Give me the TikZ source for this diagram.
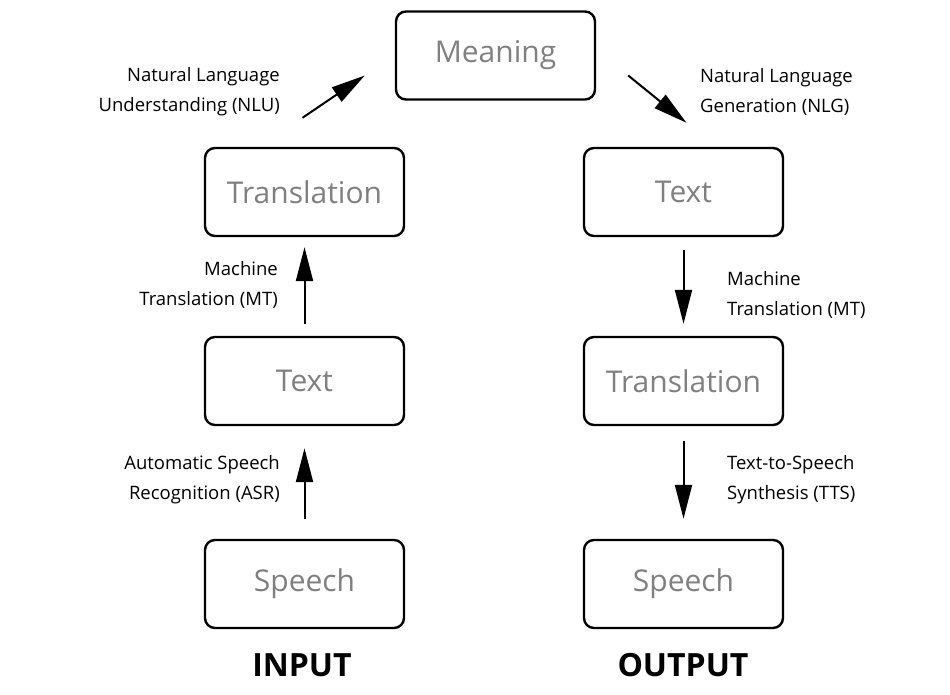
\documentclass[tikz,border=0pt]{standalone}
\usepackage{fontspec}
\setmainfont{Open Sans}
\usetikzlibrary{arrows.meta}
\begin{document}
\begin{tikzpicture}[x=1pt, y=-1pt, box/.style = {draw, line width=2.4pt, rounded corners=10pt, minimum width=199pt, minimum height=88pt, text=black!50, font=\fontsize{30}{36}\selectfont},
		lbl/.style = {inner sep=0pt, font=\fontsize{18.5}{30}\selectfont},
		arr/.style = {-{Triangle[length=34pt,width=17pt]}, line width=2pt},
		side/.style = {font=\bfseries\fontsize{32}{38}\selectfont}]
		
		\useasboundingbox (0,0) rectangle (950,695);
		
		\node[box] (meaning) at (495.5,55.5) {Meaning};
		\node[box] (intrans) at (304.5,192) {Translation};
		\node[box] (intext) at (304.5,381) {Text};
		\node[box] (inspeech) at (304.5,584) {Speech};
		
		\node[box] (outtext) at (683.5,192) {Text};
		\node[box] (outtrans) at (683.5,381) {Translation};
		\node[box] (outspeech) at (683.5,584) {Speech};
		
		\draw[arr] ([yshift=20]inspeech.north) to ([yshift=-22]intext.south);
		\draw[arr] ([yshift=12]intext.north) to ([yshift=-10]intrans.south);
		\draw[arr] ([shift={(-2,-29)}]intrans.north) to ([shift={(-30,20)}]meaning.west);
		
		\draw[arr] ([shift={(32,20)}]meaning.east) to ([shift={(3,-24)}]outtext.north);
		\draw[arr] ([yshift=-13]outtext.south) to ([yshift=12]outtrans.north);
		\draw[arr] ([yshift=-15]outtrans.south) to ([yshift=20]outspeech.north);
		
		\node[lbl, anchor=east, align=right] (nlu) at (280,92) {Natural Language\\Understanding (NLU)};
		\node[lbl, anchor=east, align=right] (mtin) at (278,285) {Machine\\Translation (MT)};
		\node[lbl, anchor=east, align=right] (asr) at (280,480) {Automatic Speech\\Recognition (ASR)};
		
		\node[lbl, anchor=west, align=left] (nlg) at (700,92) {Natural Language\\Generation (NLG)};
		\node[lbl, anchor=west, align=left] (mtout) at (727,295) {Machine\\Translation (MT)};
		\node[lbl, anchor=west, align=left] (tts) at (727,480) {Text-to-Speech\\Synthesis (TTS)};
		
		\node[side] (input) at (302,665) {INPUT};
		\node[side] (output) at (683,665) {OUTPUT};
		
	\end{tikzpicture}
\end{document}
